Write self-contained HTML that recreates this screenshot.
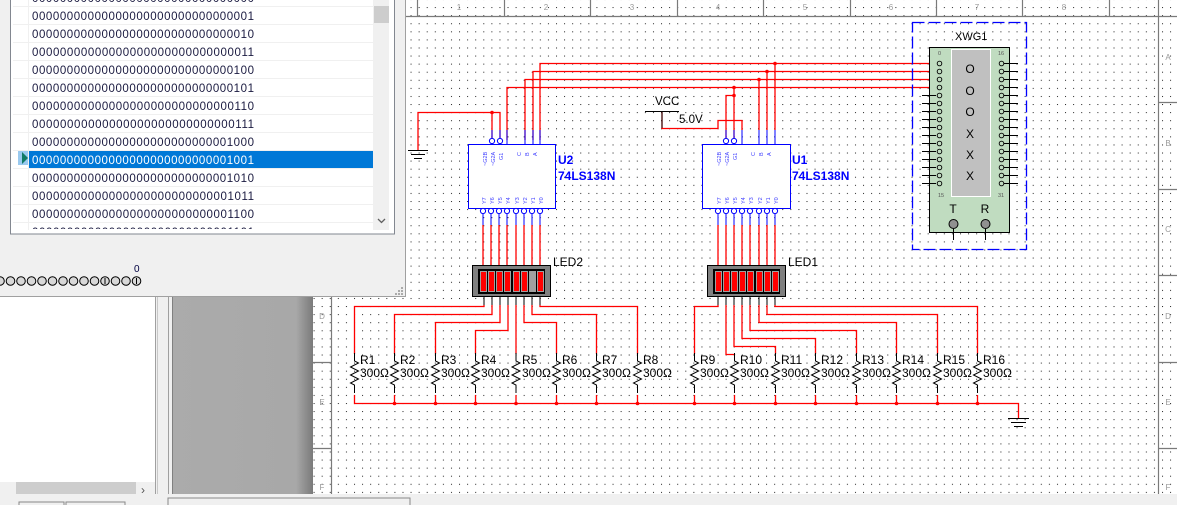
<!DOCTYPE html>
<html><head><meta charset="utf-8"><style>
html,body{margin:0;padding:0;width:1177px;height:505px;overflow:hidden;background:#f0f0f0}
svg{display:block}
text{font-family:"Liberation Sans",sans-serif}
</style></head><body>
<svg width="1177" height="505" viewBox="0 0 1177 505" xmlns="http://www.w3.org/2000/svg">
<defs>
<pattern id="dots" x="6.56" y="7.08" width="8.08" height="8.08" patternUnits="userSpaceOnUse">
<rect x="0" y="0" width="1" height="1" fill="#222"/>
</pattern>
<linearGradient id="gshade" x1="0" x2="1" y1="0" y2="0">
<stop offset="0" stop-color="#ababab"/><stop offset="0.88" stop-color="#a8a8a8"/><stop offset="1" stop-color="#7a7a7a"/>
</linearGradient>
</defs>

<!-- left panel -->
<rect x="0" y="0" width="155" height="482" fill="#fff"/>
<rect x="0" y="482" width="155" height="15" fill="#f0f0f0"/>
<rect x="16" y="482" width="120" height="15" fill="#cdcdcd"/>
<text x="141" y="494" font-size="12" fill="#555">›</text>
<line x1="155.5" y1="0" x2="155.5" y2="498" stroke="#a0a0a0"/>
<line x1="157.5" y1="0" x2="157.5" y2="498" stroke="#c8c8c8"/>
<line x1="168.5" y1="0" x2="168.5" y2="505" stroke="#a0a0a0"/>
<rect x="172" y="0" width="141" height="494" fill="url(#gshade)"/>
<line x1="172.5" y1="0" x2="172.5" y2="494" stroke="#808080"/>

<!-- schematic area -->
<rect x="313" y="0" width="864" height="494" fill="#fff"/>
<rect x="313" y="0" width="864" height="494" fill="url(#dots)"/>
<!-- rulers -->
<g stroke="#7a7a7a" stroke-width="1.2" fill="none">
<line x1="331.5" y1="0" x2="331.5" y2="494"/>
<line x1="1158.5" y1="0" x2="1158.5" y2="494"/>
<line x1="313" y1="16.5" x2="1177" y2="16.5"/>
<line x1="417.5" y1="0" x2="417.5" y2="16"/>
<line x1="504.5" y1="0" x2="504.5" y2="16"/>
<line x1="590.5" y1="0" x2="590.5" y2="16"/>
<line x1="677.5" y1="0" x2="677.5" y2="16"/>
<line x1="763.5" y1="0" x2="763.5" y2="16"/>
<line x1="850.5" y1="0" x2="850.5" y2="16"/>
<line x1="936.5" y1="0" x2="936.5" y2="16"/>
<line x1="1022.5" y1="0" x2="1022.5" y2="16"/>
<line x1="1109.5" y1="0" x2="1109.5" y2="16"/>
<line x1="1159" y1="102.5" x2="1177" y2="102.5"/>
<line x1="1159" y1="189.5" x2="1177" y2="189.5"/>
<line x1="1159" y1="275.5" x2="1177" y2="275.5"/>
<line x1="1159" y1="362.5" x2="1177" y2="362.5"/>
<line x1="1159" y1="448.5" x2="1177" y2="448.5"/>
<line x1="313" y1="362.5" x2="331" y2="362.5"/>
<line x1="313" y1="448.5" x2="331" y2="448.5"/>
</g>
<g font-size="8" fill="#999" text-anchor="middle">
<text x="459" y="10">1</text><text x="546" y="10">2</text><text x="632" y="10">3</text><text x="718" y="10">4</text>
<text x="805" y="10">5</text><text x="891" y="10">6</text><text x="977" y="10">7</text><text x="1064" y="10">8</text>
<text x="1168" y="60">A</text><text x="1168" y="146">B</text><text x="1168" y="232">C</text><text x="1168" y="319">D</text><text x="1168" y="405">E</text><text x="1168" y="490">F</text>
<text x="322" y="319">D</text><text x="322" y="405">E</text><text x="322" y="490">F</text>
</g>

<!-- red wires top -->
<g stroke="#ff0000" stroke-width="1.3" fill="none">
<polyline points="540,140 540,63.5 938,63.5"/>
<polyline points="533,140 533,71.5 938,71.5"/>
<polyline points="525,140 525,79.5 938,79.5"/>
<polyline points="507,140 507,87.5 938,87.5"/>
<polyline points="775,130 775,63.5"/>
<polyline points="767,130 767,71.5"/>
<polyline points="759,130 759,79.5"/>
<polyline points="734,138 734,87.5"/>
<polyline points="726,138 726,95.5 734,95.5"/>
<polyline points="662,112 662,128.5 718,128.5 718,120.5 742,120.5 742,130"/>
<polyline points="418,150 418,112.5 500,112.5 500,138"/>
<polyline points="492,112.5 492,138"/>
</g>
<g fill="#ff0000">
<circle cx="775" cy="63.5" r="1.8"/><circle cx="767" cy="71.5" r="1.8"/><circle cx="759" cy="79.5" r="1.8"/>
<circle cx="734" cy="87.5" r="1.8"/><circle cx="734" cy="95.5" r="1.8"/><circle cx="492" cy="112.5" r="1.8"/>
</g>
<!-- ground U2 -->
<g stroke="#000" stroke-width="1">
<line x1="408" y1="150.5" x2="428" y2="150.5"/><line x1="411" y1="154.5" x2="425" y2="154.5"/><line x1="414" y1="158.5" x2="422" y2="158.5"/>
</g>
<!-- VCC -->
<line x1="645" y1="111.5" x2="679" y2="111.5" stroke="#000"/>
<line x1="662" y1="111.5" x2="662" y2="128" stroke="#000"/>
<text x="655" y="105" font-size="11.5" fill="#000">VCC</text>
<text x="679" y="123" font-size="11.5" fill="#000">5.0V</text>

<!-- U2 -->
<g stroke="#0000ff" stroke-width="1" fill="#fff">
<rect x="468.5" y="144.5" width="87" height="64"/>
<rect x="702.5" y="144.5" width="88" height="64"/>
<line x1="507" y1="130" x2="507" y2="144" /><line x1="525" y1="130" x2="525" y2="144"/><line x1="533" y1="130" x2="533" y2="144"/><line x1="540" y1="130" x2="540" y2="144"/>
<line x1="492" y1="130" x2="492" y2="138"/><line x1="500" y1="130" x2="500" y2="138"/>
<circle cx="492" cy="141" r="2.6"/><circle cx="500" cy="141" r="2.6"/>
<line x1="742" y1="130" x2="742" y2="144"/><line x1="759" y1="130" x2="759" y2="144"/><line x1="767" y1="130" x2="767" y2="144"/><line x1="775" y1="130" x2="775" y2="144"/>
<line x1="726" y1="130" x2="726" y2="138"/><line x1="734" y1="130" x2="734" y2="138"/>
<circle cx="726" cy="141" r="2.6"/><circle cx="734" cy="141" r="2.6"/>
</g>
<g stroke="#0000ff" fill="#fff">
<circle cx="483" cy="211" r="2.6"/><circle cx="491" cy="211" r="2.6"/><circle cx="499" cy="211" r="2.6"/><circle cx="507" cy="211" r="2.6"/><circle cx="516" cy="211" r="2.6"/><circle cx="524" cy="211" r="2.6"/><circle cx="532" cy="211" r="2.6"/><circle cx="540" cy="211" r="2.6"/>
<circle cx="718" cy="211" r="2.6"/><circle cx="726" cy="211" r="2.6"/><circle cx="734" cy="211" r="2.6"/><circle cx="742" cy="211" r="2.6"/><circle cx="750" cy="211" r="2.6"/><circle cx="759" cy="211" r="2.6"/><circle cx="767" cy="211" r="2.6"/><circle cx="775" cy="211" r="2.6"/>
</g>
<g stroke="#0000ff" stroke-width="1">
<line x1="483" y1="214" x2="483" y2="225"/><line x1="491" y1="214" x2="491" y2="225"/><line x1="499" y1="214" x2="499" y2="225"/><line x1="507" y1="214" x2="507" y2="225"/><line x1="516" y1="214" x2="516" y2="225"/><line x1="524" y1="214" x2="524" y2="225"/><line x1="532" y1="214" x2="532" y2="225"/><line x1="540" y1="214" x2="540" y2="225"/>
<line x1="718" y1="214" x2="718" y2="225"/><line x1="726" y1="214" x2="726" y2="225"/><line x1="734" y1="214" x2="734" y2="225"/><line x1="742" y1="214" x2="742" y2="225"/><line x1="750" y1="214" x2="750" y2="225"/><line x1="759" y1="214" x2="759" y2="225"/><line x1="767" y1="214" x2="767" y2="225"/><line x1="775" y1="214" x2="775" y2="225"/>
</g>
<g stroke="#ff0000" stroke-width="1.3">
<line x1="483" y1="225" x2="483" y2="265"/><line x1="491" y1="225" x2="491" y2="265"/><line x1="499" y1="225" x2="499" y2="265"/><line x1="507" y1="225" x2="507" y2="265"/><line x1="516" y1="225" x2="516" y2="265"/><line x1="524" y1="225" x2="524" y2="265"/><line x1="532" y1="225" x2="532" y2="265"/><line x1="540" y1="225" x2="540" y2="265"/>
<line x1="718" y1="225" x2="718" y2="265"/><line x1="726" y1="225" x2="726" y2="265"/><line x1="734" y1="225" x2="734" y2="265"/><line x1="742" y1="225" x2="742" y2="265"/><line x1="750" y1="225" x2="750" y2="265"/><line x1="759" y1="225" x2="759" y2="265"/><line x1="767" y1="225" x2="767" y2="265"/><line x1="775" y1="225" x2="775" y2="265"/>
</g>
<!-- tiny pin labels -->
<g font-size="5.5" fill="#4040ff">
<text x="487" y="166" transform="rotate(-90 487 166)">~G2B</text>
<text x="495" y="166" transform="rotate(-90 495 166)">~G2A</text>
<text x="503" y="160" transform="rotate(-90 503 160)">G1</text>
<text x="521" y="156" transform="rotate(-90 521 156)">C</text><text x="529" y="156" transform="rotate(-90 529 156)">B</text><text x="537" y="156" transform="rotate(-90 537 156)">A</text>
<text x="721" y="166" transform="rotate(-90 721 166)">~G2B</text>
<text x="729" y="166" transform="rotate(-90 729 166)">~G2A</text>
<text x="737" y="160" transform="rotate(-90 737 160)">G1</text>
<text x="755" y="156" transform="rotate(-90 755 156)">C</text><text x="763" y="156" transform="rotate(-90 763 156)">B</text><text x="771" y="156" transform="rotate(-90 771 156)">A</text>
<text x="486" y="204" transform="rotate(-90 486 204)">Y7</text><text x="494" y="204" transform="rotate(-90 494 204)">Y6</text><text x="502" y="204" transform="rotate(-90 502 204)">Y5</text><text x="510" y="204" transform="rotate(-90 510 204)">Y4</text><text x="519" y="204" transform="rotate(-90 519 204)">Y3</text><text x="527" y="204" transform="rotate(-90 527 204)">Y2</text><text x="535" y="204" transform="rotate(-90 535 204)">Y1</text><text x="543" y="204" transform="rotate(-90 543 204)">Y0</text>
<text x="721" y="204" transform="rotate(-90 721 204)">Y7</text><text x="729" y="204" transform="rotate(-90 729 204)">Y6</text><text x="737" y="204" transform="rotate(-90 737 204)">Y5</text><text x="745" y="204" transform="rotate(-90 745 204)">Y4</text><text x="753" y="204" transform="rotate(-90 753 204)">Y3</text><text x="762" y="204" transform="rotate(-90 762 204)">Y2</text><text x="770" y="204" transform="rotate(-90 770 204)">Y1</text><text x="778" y="204" transform="rotate(-90 778 204)">Y0</text>
</g>
<g font-size="12" font-weight="bold" fill="#0000ff">
<text x="558" y="164">U2</text><text x="558" y="180">74LS138N</text>
<text x="792" y="164">U1</text><text x="792" y="180">74LS138N</text>
</g>

<!-- LEDs -->
<g>
<rect x="472.5" y="265.5" width="78" height="31" fill="#808080" stroke="#000"/>
<rect x="478" y="269" width="67" height="25" fill="#000"/>
<g fill="#ff0000" stroke="#a0a0a0" stroke-width="1">
<rect x="480.5" y="271.5" width="6" height="20"/><rect x="488.5" y="271.5" width="6" height="20"/><rect x="496.5" y="271.5" width="6" height="20"/><rect x="504.5" y="271.5" width="6" height="20"/><rect x="513.5" y="271.5" width="6" height="20"/><rect x="521.5" y="271.5" width="6" height="20"/><rect x="529.5" y="271.5" width="6" height="20" fill="#a0a0a0"/><rect x="537.5" y="271.5" width="6" height="20"/>
</g>
<rect x="707.5" y="265.5" width="78" height="31" fill="#808080" stroke="#000"/>
<rect x="713" y="269" width="67" height="25" fill="#000"/>
<g fill="#ff0000" stroke="#a0a0a0" stroke-width="1">
<rect x="715.5" y="271.5" width="6" height="20"/><rect x="723.5" y="271.5" width="6" height="20"/><rect x="731.5" y="271.5" width="6" height="20"/><rect x="739.5" y="271.5" width="6" height="20"/><rect x="747.5" y="271.5" width="6" height="20"/><rect x="756.5" y="271.5" width="6" height="20"/><rect x="764.5" y="271.5" width="6" height="20"/><rect x="772.5" y="271.5" width="6" height="20"/>
</g>
<text x="553" y="266" font-size="12" fill="#000">LED2</text>
<text x="788" y="266" font-size="12" fill="#000">LED1</text>
</g>
<g stroke="#000" stroke-width="1">
<line x1="484" y1="297" x2="484" y2="305"/><line x1="492" y1="297" x2="492" y2="305"/><line x1="500" y1="297" x2="500" y2="305"/><line x1="508" y1="297" x2="508" y2="305"/><line x1="516" y1="297" x2="516" y2="305"/><line x1="524" y1="297" x2="524" y2="305"/><line x1="532" y1="297" x2="532" y2="305"/><line x1="540" y1="297" x2="540" y2="305"/>
<line x1="718" y1="297" x2="718" y2="305"/><line x1="726" y1="297" x2="726" y2="305"/><line x1="734" y1="297" x2="734" y2="305"/><line x1="742" y1="297" x2="742" y2="305"/><line x1="750" y1="297" x2="750" y2="305"/><line x1="759" y1="297" x2="759" y2="305"/><line x1="767" y1="297" x2="767" y2="305"/><line x1="775" y1="297" x2="775" y2="305"/>
</g>

<!-- LED to resistor wiring -->
<g stroke="#ff0000" stroke-width="1.3" fill="none">
<polyline points="484,305 484,306.5 354.5,306.5 354.5,354"/>
<polyline points="492,305 492,314.5 394.5,314.5 394.5,354"/>
<polyline points="500,305 500,322.5 435.5,322.5 435.5,354"/>
<polyline points="508,305 508,330.5 475.5,330.5 475.5,354"/>
<polyline points="516,305 516,354"/>
<polyline points="524,305 524,322.5 556.5,322.5 556.5,354"/>
<polyline points="532,305 532,314.5 596.5,314.5 596.5,354"/>
<polyline points="540,305 540,306.5 637.5,306.5 637.5,354"/>
<polyline points="718,305 718,306.5 694.5,306.5 694.5,354"/>
<polyline points="726,305 726,354.5 734.5,354.5 734.5,354"/>
<polyline points="734,305 734,346.5 775.5,346.5 775.5,354"/>
<polyline points="742,305 742,338.5 815.5,338.5 815.5,354"/>
<polyline points="750,305 750,330.5 856.5,330.5 856.5,354"/>
<polyline points="759,305 759,322.5 896.5,322.5 896.5,354"/>
<polyline points="767,305 767,314.5 937.5,314.5 937.5,354"/>
<polyline points="775,305 775,306.5 977.5,306.5 977.5,354"/>
<polyline points="354.5,395 354.5,403.5 1018.5,403.5 1018.5,418"/>
<line x1="394.5" y1="395" x2="394.5" y2="403"/><line x1="435.5" y1="395" x2="435.5" y2="403"/><line x1="475.5" y1="395" x2="475.5" y2="403"/><line x1="516" y1="395" x2="516" y2="403"/><line x1="556.5" y1="395" x2="556.5" y2="403"/><line x1="596.5" y1="395" x2="596.5" y2="403"/><line x1="637.5" y1="395" x2="637.5" y2="403"/>
<line x1="694.5" y1="395" x2="694.5" y2="403"/><line x1="734.5" y1="395" x2="734.5" y2="403"/><line x1="775.5" y1="395" x2="775.5" y2="403"/><line x1="815.5" y1="395" x2="815.5" y2="403"/><line x1="856.5" y1="395" x2="856.5" y2="403"/><line x1="896.5" y1="395" x2="896.5" y2="403"/><line x1="937.5" y1="395" x2="937.5" y2="403"/><line x1="977.5" y1="395" x2="977.5" y2="403"/>
</g>
<g fill="#ff0000">
<circle cx="394.5" cy="403.5" r="1.8"/><circle cx="435.5" cy="403.5" r="1.8"/><circle cx="475.5" cy="403.5" r="1.8"/><circle cx="516" cy="403.5" r="1.8"/><circle cx="556.5" cy="403.5" r="1.8"/><circle cx="596.5" cy="403.5" r="1.8"/><circle cx="637.5" cy="403.5" r="1.8"/><circle cx="694.5" cy="403.5" r="1.8"/><circle cx="734.5" cy="403.5" r="1.8"/><circle cx="775.5" cy="403.5" r="1.8"/><circle cx="815.5" cy="403.5" r="1.8"/><circle cx="856.5" cy="403.5" r="1.8"/><circle cx="896.5" cy="403.5" r="1.8"/><circle cx="937.5" cy="403.5" r="1.8"/><circle cx="977.5" cy="403.5" r="1.8"/>
</g>
<!-- ground right -->
<g stroke="#000"><line x1="1008" y1="418.5" x2="1029" y2="418.5"/><line x1="1011" y1="422.5" x2="1026" y2="422.5"/><line x1="1014" y1="426.5" x2="1023" y2="426.5"/></g>

<!-- resistors -->
<g stroke="#000" stroke-width="1" fill="none">
<path id="rz" d="M354.5,353 v8 l4,2 l-8,4 l8,4 l-8,4 l8,4 l-8,4 l4,2 v8"/>
<path d="M394.5,353 v8 l4,2 l-8,4 l8,4 l-8,4 l8,4 l-8,4 l4,2 v8"/>
<path d="M435.5,353 v8 l4,2 l-8,4 l8,4 l-8,4 l8,4 l-8,4 l4,2 v8"/>
<path d="M475.5,353 v8 l4,2 l-8,4 l8,4 l-8,4 l8,4 l-8,4 l4,2 v8"/>
<path d="M516,353 v8 l4,2 l-8,4 l8,4 l-8,4 l8,4 l-8,4 l4,2 v8"/>
<path d="M556.5,353 v8 l4,2 l-8,4 l8,4 l-8,4 l8,4 l-8,4 l4,2 v8"/>
<path d="M596.5,353 v8 l4,2 l-8,4 l8,4 l-8,4 l8,4 l-8,4 l4,2 v8"/>
<path d="M637.5,353 v8 l4,2 l-8,4 l8,4 l-8,4 l8,4 l-8,4 l4,2 v8"/>
<path d="M694.5,353 v8 l4,2 l-8,4 l8,4 l-8,4 l8,4 l-8,4 l4,2 v8"/>
<path d="M734.5,353 v8 l4,2 l-8,4 l8,4 l-8,4 l8,4 l-8,4 l4,2 v8"/>
<path d="M775.5,353 v8 l4,2 l-8,4 l8,4 l-8,4 l8,4 l-8,4 l4,2 v8"/>
<path d="M815.5,353 v8 l4,2 l-8,4 l8,4 l-8,4 l8,4 l-8,4 l4,2 v8"/>
<path d="M856.5,353 v8 l4,2 l-8,4 l8,4 l-8,4 l8,4 l-8,4 l4,2 v8"/>
<path d="M896.5,353 v8 l4,2 l-8,4 l8,4 l-8,4 l8,4 l-8,4 l4,2 v8"/>
<path d="M937.5,353 v8 l4,2 l-8,4 l8,4 l-8,4 l8,4 l-8,4 l4,2 v8"/>
<path d="M977.5,353 v8 l4,2 l-8,4 l8,4 l-8,4 l8,4 l-8,4 l4,2 v8"/>
</g>
<g font-size="12" fill="#000">
<text x="360" y="364">R1</text><text x="360" y="377">300Ω</text>
<text x="400" y="364">R2</text><text x="400" y="377">300Ω</text>
<text x="441" y="364">R3</text><text x="441" y="377">300Ω</text>
<text x="481" y="364">R4</text><text x="481" y="377">300Ω</text>
<text x="522" y="364">R5</text><text x="522" y="377">300Ω</text>
<text x="562" y="364">R6</text><text x="562" y="377">300Ω</text>
<text x="602" y="364">R7</text><text x="602" y="377">300Ω</text>
<text x="643" y="364">R8</text><text x="643" y="377">300Ω</text>
<text x="700" y="364">R9</text><text x="700" y="377">300Ω</text>
<text x="740" y="364">R10</text><text x="740" y="377">300Ω</text>
<text x="781" y="364">R11</text><text x="781" y="377">300Ω</text>
<text x="821" y="364">R12</text><text x="821" y="377">300Ω</text>
<text x="862" y="364">R13</text><text x="862" y="377">300Ω</text>
<text x="902" y="364">R14</text><text x="902" y="377">300Ω</text>
<text x="943" y="364">R15</text><text x="943" y="377">300Ω</text>
<text x="983" y="364">R16</text><text x="983" y="377">300Ω</text>
</g>

<!-- XWG1 -->
<rect x="912.5" y="22.5" width="114" height="227" fill="none" stroke="#0000ff" stroke-width="1.3" stroke-dasharray="12,4"/>
<text x="955" y="40" font-size="11" fill="#000">XWG1</text>
<rect x="929.5" y="47.5" width="80" height="185" fill="#c0dcc0" stroke="#000"/>
<rect x="951.5" y="49.5" width="39" height="147" fill="#c0c0c0" stroke="#fff"/>
<g font-size="12" fill="#000" text-anchor="middle">
<text x="970" y="73">O</text><text x="970" y="95">O</text><text x="970" y="116">O</text><text x="970" y="138">X</text><text x="970" y="159">X</text><text x="970" y="180">X</text>
<text x="953" y="213">T</text><text x="985" y="213">R</text>
</g>
<g font-size="5.5" fill="#555"><text x="938" y="55">0</text><text x="998" y="55">16</text><text x="938" y="197">15</text><text x="998" y="197">31</text></g>
<g stroke="#000" stroke-width="1">
<line x1="922" y1="95.5" x2="936" y2="95.5"/><line x1="922" y1="103.5" x2="936" y2="103.5"/><line x1="922" y1="111.5" x2="936" y2="111.5"/><line x1="922" y1="119.5" x2="936" y2="119.5"/><line x1="922" y1="127.5" x2="936" y2="127.5"/><line x1="922" y1="135.5" x2="936" y2="135.5"/><line x1="922" y1="143.5" x2="936" y2="143.5"/><line x1="922" y1="151.5" x2="936" y2="151.5"/><line x1="922" y1="159.5" x2="936" y2="159.5"/><line x1="922" y1="167.5" x2="936" y2="167.5"/><line x1="922" y1="175.5" x2="936" y2="175.5"/><line x1="922" y1="183.5" x2="936" y2="183.5"/>
<line x1="1004" y1="63.5" x2="1018" y2="63.5"/><line x1="1004" y1="71.5" x2="1018" y2="71.5"/><line x1="1004" y1="79.5" x2="1018" y2="79.5"/><line x1="1004" y1="87.5" x2="1018" y2="87.5"/><line x1="1004" y1="95.5" x2="1018" y2="95.5"/><line x1="1004" y1="103.5" x2="1018" y2="103.5"/><line x1="1004" y1="111.5" x2="1018" y2="111.5"/><line x1="1004" y1="119.5" x2="1018" y2="119.5"/><line x1="1004" y1="127.5" x2="1018" y2="127.5"/><line x1="1004" y1="135.5" x2="1018" y2="135.5"/><line x1="1004" y1="143.5" x2="1018" y2="143.5"/><line x1="1004" y1="151.5" x2="1018" y2="151.5"/><line x1="1004" y1="159.5" x2="1018" y2="159.5"/><line x1="1004" y1="167.5" x2="1018" y2="167.5"/><line x1="1004" y1="175.5" x2="1018" y2="175.5"/><line x1="1004" y1="183.5" x2="1018" y2="183.5"/>
<line x1="953.5" y1="229" x2="953.5" y2="240"/><line x1="985.5" y1="229" x2="985.5" y2="240"/>
</g>
<g fill="#c0dcc0" stroke="#000" stroke-width="0.9">
<circle cx="939.5" cy="63.5" r="2.3"/><circle cx="939.5" cy="71.5" r="2.3"/><circle cx="939.5" cy="79.5" r="2.3"/><circle cx="939.5" cy="87.5" r="2.3"/><circle cx="939.5" cy="95.5" r="2.3"/><circle cx="939.5" cy="103.5" r="2.3"/><circle cx="939.5" cy="111.5" r="2.3"/><circle cx="939.5" cy="119.5" r="2.3"/><circle cx="939.5" cy="127.5" r="2.3"/><circle cx="939.5" cy="135.5" r="2.3"/><circle cx="939.5" cy="143.5" r="2.3"/><circle cx="939.5" cy="151.5" r="2.3"/><circle cx="939.5" cy="159.5" r="2.3"/><circle cx="939.5" cy="167.5" r="2.3"/><circle cx="939.5" cy="175.5" r="2.3"/><circle cx="939.5" cy="183.5" r="2.3"/>
<circle cx="1001.5" cy="63.5" r="2.3"/><circle cx="1001.5" cy="71.5" r="2.3"/><circle cx="1001.5" cy="79.5" r="2.3"/><circle cx="1001.5" cy="87.5" r="2.3"/><circle cx="1001.5" cy="95.5" r="2.3"/><circle cx="1001.5" cy="103.5" r="2.3"/><circle cx="1001.5" cy="111.5" r="2.3"/><circle cx="1001.5" cy="119.5" r="2.3"/><circle cx="1001.5" cy="127.5" r="2.3"/><circle cx="1001.5" cy="135.5" r="2.3"/><circle cx="1001.5" cy="143.5" r="2.3"/><circle cx="1001.5" cy="151.5" r="2.3"/><circle cx="1001.5" cy="159.5" r="2.3"/><circle cx="1001.5" cy="167.5" r="2.3"/><circle cx="1001.5" cy="175.5" r="2.3"/><circle cx="1001.5" cy="183.5" r="2.3"/>
</g>
<g fill="#909090" stroke="#000"><circle cx="953.5" cy="224" r="4.5"/><circle cx="985.5" cy="224" r="4.5"/></g>

<!-- bottom tab strip -->
<rect x="0" y="494" width="1177" height="11" fill="#f0f0f0"/>
<rect x="168" y="498" width="242" height="10" fill="#f0f0f0" stroke="#888"/>
<rect x="19" y="502" width="45" height="8" fill="#f0f0f0" stroke="#888"/>
<rect x="66" y="502" width="59" height="8" fill="#f0f0f0" stroke="#888"/>

<!-- popup window -->
<rect x="0" y="0" width="405" height="297" fill="#f0f0f0"/>
<line x1="405.5" y1="0" x2="405.5" y2="297" stroke="#a0a0a0"/>
<line x1="0" y1="296.5" x2="406" y2="296.5" stroke="#a0a0a0"/>
<rect x="10.5" y="-1" width="384" height="235" fill="#fff" stroke="#828790"/>
<rect x="13" y="0" width="16" height="230" fill="#fff"/>
<line x1="28.5" y1="0" x2="28.5" y2="230" stroke="#f0f0f0"/>
<g stroke="#f0f0f0" stroke-width="1">
<line x1="13" y1="6.5" x2="373" y2="6.5"/><line x1="13" y1="24.5" x2="373" y2="24.5"/><line x1="13" y1="42.5" x2="373" y2="42.5"/><line x1="13" y1="60.5" x2="373" y2="60.5"/><line x1="13" y1="78.5" x2="373" y2="78.5"/><line x1="13" y1="96.5" x2="373" y2="96.5"/><line x1="13" y1="114.5" x2="373" y2="114.5"/><line x1="13" y1="132.5" x2="373" y2="132.5"/><line x1="13" y1="150.5" x2="373" y2="150.5"/><line x1="13" y1="168.5" x2="373" y2="168.5"/><line x1="13" y1="186.5" x2="373" y2="186.5"/><line x1="13" y1="204.5" x2="373" y2="204.5"/><line x1="13" y1="222.5" x2="373" y2="222.5"/>
</g>
<rect x="29" y="151" width="344" height="17" fill="#0078d7"/>
<rect x="18" y="151" width="10" height="14" fill="#99c9ef"/>
<polygon points="22,152 28,158 22,164" fill="#117a65"/>
<svg x="13" y="0" width="360" height="229" overflow="hidden">
<g font-family="Liberation Mono, monospace" font-size="11.5" fill="#1a1a40">
<text x="19" y="2" textLength="222">00000000000000000000000000000000</text>
<text x="19" y="20" textLength="222">00000000000000000000000000000001</text>
<text x="19" y="38" textLength="222">00000000000000000000000000000010</text>
<text x="19" y="56" textLength="222">00000000000000000000000000000011</text>
<text x="19" y="74" textLength="222">00000000000000000000000000000100</text>
<text x="19" y="92" textLength="222">00000000000000000000000000000101</text>
<text x="19" y="110" textLength="222">00000000000000000000000000000110</text>
<text x="19" y="128" textLength="222">00000000000000000000000000000111</text>
<text x="19" y="146" textLength="222">00000000000000000000000000001000</text>
<text x="19" y="164" textLength="222" fill="#fff">00000000000000000000000000001001</text>
<text x="19" y="182" textLength="222">00000000000000000000000000001010</text>
<text x="19" y="200" textLength="222">00000000000000000000000000001011</text>
<text x="19" y="218" textLength="222">00000000000000000000000000001100</text>
<text x="19" y="236" textLength="222">00000000000000000000000000001101</text>
</g>
</svg>
<rect x="373" y="0" width="16" height="230" fill="#f0f0f0"/>
<rect x="374" y="6" width="15" height="17" fill="#cdcdcd"/>
<polyline points="378,219 381.5,222.5 385,219" fill="none" stroke="#606060" stroke-width="1.3"/>
<text x="134" y="272" font-size="10" fill="#000040">0</text>
<g fill="#d8d8d8" stroke="#000" stroke-width="1">
<circle cx="0" cy="281" r="4.3"/><circle cx="10.5" cy="281" r="4.3"/><circle cx="21" cy="281" r="4.3"/><circle cx="31.5" cy="281" r="4.3"/><circle cx="42" cy="281" r="4.3"/><circle cx="52.5" cy="281" r="4.3"/><circle cx="63" cy="281" r="4.3"/><circle cx="73.5" cy="281" r="4.3"/><circle cx="84" cy="281" r="4.3"/><circle cx="94.5" cy="281" r="4.3"/><circle cx="105" cy="281" r="4.3"/><circle cx="115.5" cy="281" r="4.3"/><circle cx="126" cy="281" r="4.3"/><circle cx="136.5" cy="281" r="4.3"/>
</g>
<g stroke="#000" stroke-width="1"><line x1="105" y1="278" x2="105" y2="284"/><line x1="136.5" y1="278" x2="136.5" y2="284"/></g>
<g fill="#aaa"><rect x="398" y="290" width="2" height="2"/><rect x="401" y="287" width="2" height="2"/><rect x="401" y="290" width="2" height="2"/><rect x="395" y="293" width="2" height="2"/><rect x="398" y="293" width="2" height="2"/><rect x="401" y="293" width="2" height="2"/></g>
</svg>
</body></html>
